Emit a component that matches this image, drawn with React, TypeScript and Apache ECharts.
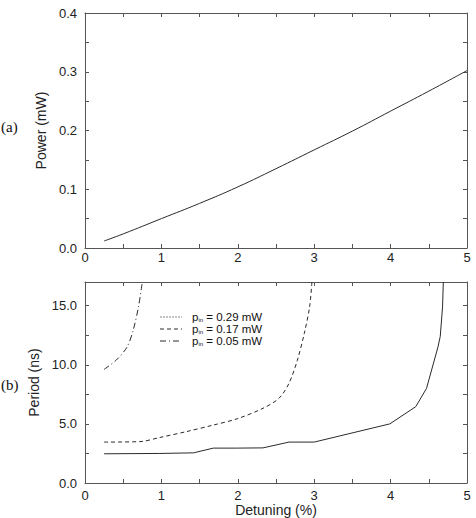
import React, { useEffect, useRef } from "react";
import * as echarts from "echarts";

// (a) Power vs detuning
const detuningA = [0.25, 0.5, 1, 1.5, 2, 2.5, 3, 3.5, 4, 4.5, 5];
const powerA = [0.012, 0.024, 0.05, 0.076, 0.104, 0.135, 0.167, 0.199, 0.233, 0.267, 0.302];

// (b) Period vs detuning
const x029 = [0.25, 0.98, 1.42, 1.68, 1.98, 2.33, 2.67, 3.0, 3.99, 4.33, 4.47, 4.62, 4.65, 4.68, 4.69];
const y029 = [2.47, 2.5, 2.55, 2.95, 2.95, 2.97, 3.46, 3.46, 5.0, 6.46, 8.0, 11.5, 12.4, 14.9, 17.0];
const x017 = [0.25, 0.72, 0.98, 1.33, 1.68, 2.0, 2.33, 2.54, 2.67, 2.78, 2.87, 2.94, 2.97];
const y017 = [3.46, 3.5, 3.85, 4.35, 4.9, 5.45, 6.32, 7.17, 8.43, 10.4, 12.65, 14.9, 17.0];
const x005 = [0.25, 0.41, 0.55, 0.63, 0.7, 0.75];
const y005 = [9.61, 10.4, 11.5, 12.9, 14.9, 17.0];

const legendLabels = ["0.29 mW", "0.17 mW", "0.05 mW"];
const xTicksTop = [0, 1, 2, 3, 4, 5];

const FONT = "Liberation Sans";
const AX = "#555";
const LINE = "#2a2a2a";

const isMult = (v: number, step: number) => Math.abs(v / step - Math.round(v / step)) < 1e-6;

function pairs(xs: number[], ys: number[]) {
  return xs.map((x, i) => [x, ys[i]]);
}

export default function App() {
  const ref = useRef<HTMLDivElement>(null);
  useEffect(() => {
    if (!ref.current) return;
    const chart = echarts.init(ref.current, null, { renderer: "svg" });
    const labelStyle = { fontFamily: FONT, fontSize: 13, color: "#222" };
    const tick = { show: true, inside: true, length: 4, lineStyle: { color: AX, width: 1 } };
    const axLine = { show: true, onZero: false, lineStyle: { color: AX, width: 1 } };

    const xAxis = (gi: number, pos: "bottom" | "top", labels: boolean, margin: number, name?: string) => ({
      type: "value",
      gridIndex: gi,
      position: pos,
      min: 0,
      max: 5,
      interval: 0.5,
      axisLine: axLine,
      axisTick: tick,
      splitLine: { show: false },
      axisLabel: {
        show: labels,
        margin,
        ...labelStyle,
        formatter: (v: number) => (isMult(v, 1) && xTicksTop.includes(Math.round(v)) ? String(Math.round(v)) : ""),
      },
      name: name || "",
      nameLocation: "middle",
      nameGap: 19,
      nameTextStyle: { fontFamily: FONT, fontSize: 14, color: "#222" },
    });

    const yAxis = (
      gi: number,
      pos: "left" | "right",
      labels: boolean,
      max: number,
      interval: number,
      major: number,
      nameGap: number,
      name?: string
    ) => ({
      type: "value",
      gridIndex: gi,
      position: pos,
      min: 0,
      max,
      interval,
      axisLine: axLine,
      axisTick: tick,
      splitLine: { show: false },
      axisLabel: {
        show: labels,
        margin: 8,
        showMaxLabel: isMult(max, major),
        ...labelStyle,
        formatter: (v: number) => (isMult(v, major) ? v.toFixed(1) : ""),
      },
      name: name || "",
      nameLocation: "middle",
      nameGap,
      nameTextStyle: { fontFamily: FONT, fontSize: 14, color: "#222" },
    });

    const legendY = [317, 329, 341];
    const legendDash: any[] = [[2, 1], [4, 3], [6, 3, 1, 3]];

    chart.setOption({
      animation: false,
      grid: [
        { left: 85, right: 9, top: 13, height: 235 },
        { left: 85, right: 9, top: 282, height: 201 },
      ],
      xAxis: [
        xAxis(0, "bottom", true, 3),
        xAxis(0, "top", false, 3),
        xAxis(1, "bottom", true, 6, "Detuning (%)"),
        xAxis(1, "top", false, 3),
      ],
      yAxis: [
        yAxis(0, "left", true, 0.4, 0.05, 0.1, 29, "Power (mW)"),
        yAxis(0, "right", false, 0.4, 0.05, 0.1, 10),
        yAxis(1, "left", true, 17, 2.5, 5, 38, "Period (ns)"),
        yAxis(1, "right", false, 17, 2.5, 5, 10),
      ],
      series: [
        {
          type: "line",
          xAxisIndex: 0,
          yAxisIndex: 0,
          data: pairs(detuningA, powerA),
          smooth: true,
          showSymbol: false,
          lineStyle: { color: LINE, width: 1 },
        },
        {
          type: "line",
          xAxisIndex: 2,
          yAxisIndex: 2,
          data: pairs(x029, y029),
          showSymbol: false,
          lineStyle: { color: LINE, width: 1 },
        },
        {
          type: "line",
          xAxisIndex: 2,
          yAxisIndex: 2,
          data: pairs(x017, y017),
          smooth: 0.3,
          showSymbol: false,
          lineStyle: { color: LINE, width: 1, type: [4, 3] },
        },
        {
          type: "line",
          xAxisIndex: 2,
          yAxisIndex: 2,
          data: pairs(x005, y005),
          smooth: 0.3,
          showSymbol: false,
          lineStyle: { color: LINE, width: 1, type: [6, 3, 1, 3] },
        },
      ],
      graphic: [
        {
          type: "text",
          left: 1,
          top: 119,
          style: { text: "(a)", fontFamily: "Liberation Serif", fontSize: 15, fill: "#111" },
        },
        {
          type: "text",
          left: 1,
          top: 377,
          style: { text: "(b)", fontFamily: "Liberation Serif", fontSize: 15, fill: "#111" },
        },
        ...legendLabels.flatMap((lab, i) => [
          {
            type: "line",
            shape: { x1: 160, y1: legendY[i], x2: 182, y2: legendY[i] },
            style: { stroke: i === 0 ? "#888" : LINE, lineWidth: 1, lineDash: legendDash[i] },
          },
          {
            type: "text",
            x: 192,
            y: legendY[i],
            style: {
              text: `{p|p}{s|in}{t| = ${lab}}`,
              verticalAlign: "middle",
              fill: "#111",
              rich: {
                p: { fontFamily: FONT, fontSize: 11.5, fill: "#111", verticalAlign: "middle" },
                s: { fontFamily: FONT, fontSize: 6, fill: "#111", verticalAlign: "bottom", padding: [4, 0, 0, 0] },
                t: { fontFamily: FONT, fontSize: 11.5, fill: "#111", verticalAlign: "middle" },
              },
            },
          },
        ]),
      ],
    });
    return () => chart.dispose();
  }, []);
  return <div ref={ref} style={{ position: "fixed", left: 0, top: 0, width: 476, height: 518, background: "#fff" }} />;
}
